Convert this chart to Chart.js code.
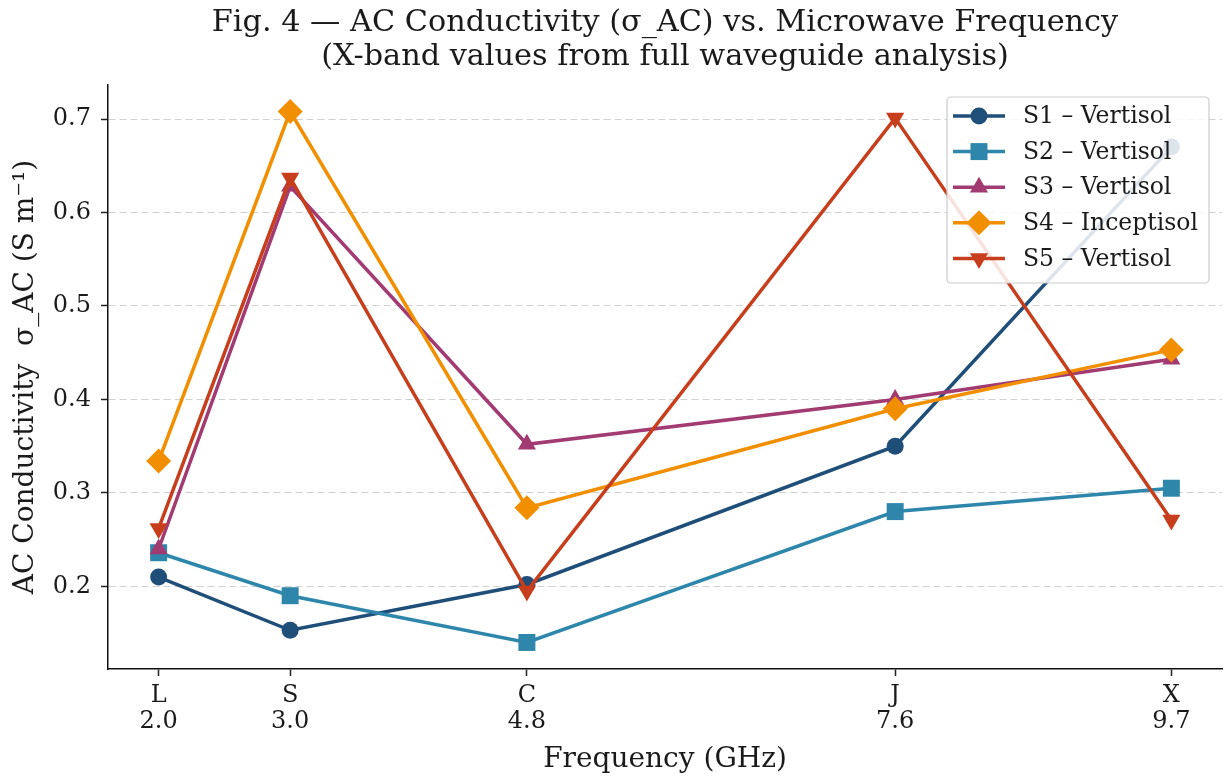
<!DOCTYPE html>
<html>
<head>
<meta charset="utf-8">
<script src="https://cdn.jsdelivr.net/npm/chart.js@4.4.1/dist/chart.umd.min.js"></script>
<style>
  html, body { margin: 0; padding: 0; background: #fff; }
</style>
</head>
<body>
<canvas id="chart" width="1226" height="777"></canvas>
<script>
// band letters and centre frequencies (GHz)
const bandNames = ['L', 'S', 'C', 'J', 'X'];
const frequencies = [2.0, 3.0, 4.8, 7.6, 9.7];
const yTicks = [0.2, 0.3, 0.4, 0.5, 0.6, 0.7];

// sigma_AC (S/m) per soil sample
const s1Values = [0.210, 0.153, 0.202, 0.350, 0.670];
const s2Values = [0.236, 0.190, 0.140, 0.280, 0.305];
const s3Values = [0.240, 0.628, 0.352, 0.400, 0.443];
const s4Values = [0.334, 0.708, 0.284, 0.390, 0.453];
const s5Values = [0.262, 0.637, 0.195, 0.701, 0.271];

const seriesNames = ['S1 – Vertisol', 'S2 – Vertisol', 'S3 – Vertisol', 'S4 – Inceptisol', 'S5 – Vertisol'];
const seriesValues = [s1Values, s2Values, s3Values, s4Values, s5Values];
const seriesColors = ['#1f4e79', '#2e86ab', '#a23b72', '#f18f01', '#c73e1d'];
const markerStyles = ['circle', 'rect', 'triangle', 'rectRot', 'triangle'];
const markerRotation = [0, 0, 0, 0, 180];
const markerRadius = [8.5, 12, 10.5, 12.5, 10.5];

const serif = "'DejaVu Serif', serif";
const textColor = '#1a1a1a';

function drawMarker(ctx, style, x, y, r, rot) {
    let rad = rot * Math.PI / 180;
    ctx.beginPath();
    if (style === 'circle') {
        ctx.arc(x, y, r, 0, Math.PI * 2);
    } else if (style === 'rect') {
        let s = Math.SQRT1_2 * r;
        ctx.rect(x - s, y - s, 2 * s, 2 * s);
    } else if (style === 'rectRot') {
        ctx.moveTo(x - r, y);
        ctx.lineTo(x, y - r);
        ctx.lineTo(x + r, y);
        ctx.lineTo(x, y + r);
    } else if (style === 'triangle') {
        for (let k = 0; k < 3; k++) {
            let px = x + Math.sin(rad) * r, py = y - Math.cos(rad) * r;
            if (k === 0) ctx.moveTo(px, py); else ctx.lineTo(px, py);
            rad += 2 * Math.PI / 3;
        }
    }
    ctx.closePath();
    ctx.fill();
}

// legend box drawn inside the plot, upper right
const boxLegend = {
    id: 'boxLegend',
    afterDatasetsDraw(chart) {
        const ctx = chart.ctx;
        const x0 = 947, y0 = 97, w = 262, h = 186;
        ctx.save();
        ctx.fillStyle = 'rgba(255,255,255,0.85)';
        ctx.strokeStyle = '#cccccc';
        ctx.lineWidth = 1.2;
        ctx.beginPath();
        ctx.roundRect(x0, y0, w, h, 4);
        ctx.fill();
        ctx.stroke();
        ctx.font = '23.5px ' + serif;
        ctx.textBaseline = 'middle';
        seriesNames.forEach((name, i) => {
            const cy = 116 + i * 35.6;
            ctx.strokeStyle = seriesColors[i];
            ctx.fillStyle = seriesColors[i];
            ctx.lineWidth = 3.5;
            ctx.beginPath();
            ctx.moveTo(953, cy);
            ctx.lineTo(1005, cy);
            ctx.stroke();
            drawMarker(ctx, markerStyles[i], 979, cy, markerRadius[i], markerRotation[i]);
            ctx.fillStyle = textColor;
            ctx.fillText(name, 1023, cy + 1);
        });
        ctx.restore();
    }
};

const datasets = seriesNames.map((name, i) => ({
    label: name,
    data: frequencies.map((f, j) => ({ x: f, y: seriesValues[i][j] })),
    borderColor: seriesColors[i],
    backgroundColor: seriesColors[i],
    borderWidth: 3.5,
    pointStyle: markerStyles[i],
    pointRotation: markerRotation[i],
    pointRadius: markerRadius[i],
    pointBorderWidth: 0,
    pointBackgroundColor: seriesColors[i],
    tension: 0,
    clip: false,
    order: seriesNames.length - i
}));

const ctx = document.getElementById('chart').getContext('2d');
const chart = new Chart(ctx, {
    type: 'line',
    data: { datasets: datasets },
    options: {
        responsive: false,
        animation: false,
        devicePixelRatio: 1,
        layout: { autoPadding: false, padding: { left: 0, right: 4, top: 0, bottom: 0 } },
        plugins: {
            legend: { display: false },
            tooltip: { enabled: false },
            title: {
                display: true,
                fullSize: false,
                text: ['Fig. 4 — AC Conductivity (σ_AC) vs. Microwave Frequency',
                       '(X-band values from full waveguide analysis)'],
                color: textColor,
                font: { family: serif, size: 30.3, weight: 'normal', lineHeight: 34 / 30.3 },
                padding: { top: 6, bottom: 11 }
            }
        },
        scales: {
            x: {
                type: 'linear',
                min: 1.615,
                max: 10.085,
                afterBuildTicks: (scale) => {
                    scale.ticks = frequencies.map(v => ({ value: v }));
                },
                afterFit: (scale) => {
                    scale.height = 108;
                    scale.paddingLeft = 0;
                    scale.paddingRight = 0;
                },
                ticks: {
                    autoSkip: false,
                    maxRotation: 0,
                    padding: 7,
                    color: textColor,
                    font: { family: serif, size: 24, lineHeight: 26 / 24 },
                    callback: (value, index) => [bandNames[index], frequencies[index].toFixed(1)]
                },
                grid: {
                    drawOnChartArea: false,
                    drawTicks: true,
                    tickLength: 7,
                    tickColor: '#222',
                    tickWidth: 1.5
                },
                border: { display: true, color: '#111', width: 1.5 },
                title: {
                    display: true,
                    text: 'Frequency (GHz)',
                    color: textColor,
                    font: { family: serif, size: 28, lineHeight: 1.2 },
                    padding: { top: 0, bottom: 0 }
                }
            },
            y: {
                type: 'linear',
                min: 0.1116,
                max: 0.7364,
                afterBuildTicks: (scale) => {
                    scale.ticks = yTicks.map(v => ({ value: v }));
                },
                afterFit: (scale) => {
                    scale.width = 108;
                    scale.paddingTop = 0;
                    scale.paddingBottom = 0;
                },
                ticks: {
                    padding: 10,
                    color: textColor,
                    font: { family: serif, size: 24 },
                    callback: (value) => value.toFixed(1)
                },
                grid: {
                    color: '#d0d0d0',
                    lineWidth: 1,
                    drawTicks: true,
                    tickLength: 7,
                    tickColor: '#222',
                    tickWidth: 1.5,
                    tickBorderDash: []
                },
                border: { display: true, color: '#111', width: 1.5, dash: [7, 4] },
                title: {
                    display: true,
                    text: 'AC Conductivity  σ_AC (S m⁻¹)',
                    color: textColor,
                    font: { family: serif, size: 28, lineHeight: 1.2 },
                    padding: { top: 9, bottom: 0 }
                }
            }
        }
    },
    plugins: [boxLegend]
});
</script>
</body>
</html>
